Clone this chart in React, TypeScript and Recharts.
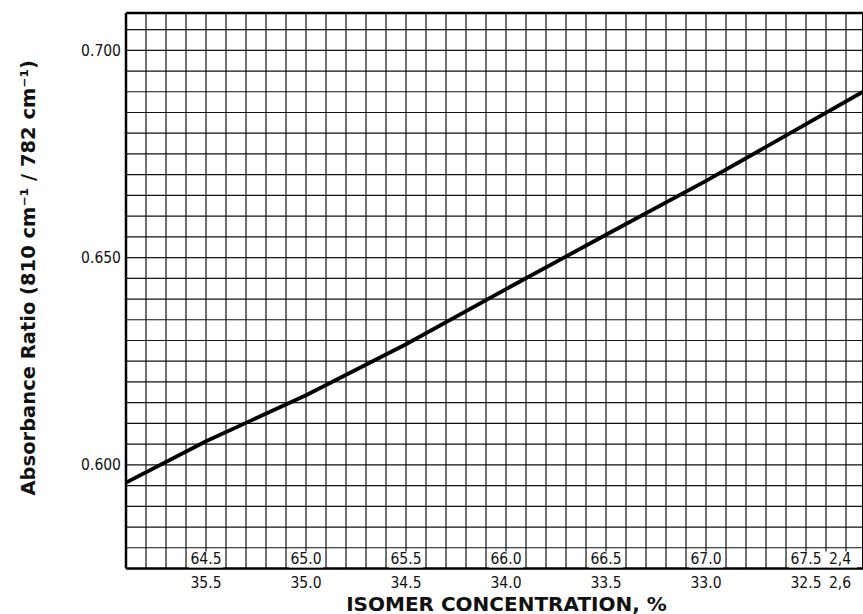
import { LineChart, Line, XAxis, YAxis, CartesianGrid, ReferenceLine, Label } from "recharts";

const font = "'DejaVu Sans Condensed', 'DejaVu Sans', sans-serif";
const boldFont = "'DejaVu Sans', Verdana, sans-serif";

// line: isomer % (reversed axis) vs absorbance ratio
const isomerPct = [35.9, 35.5, 35.0, 34.5, 34.0, 33.5, 33.0, 32.5, 32.215];
const absRatio = [0.5957, 0.6057, 0.6168, 0.6291, 0.6424, 0.6555, 0.6685, 0.6822, 0.69];

const xDomain = [32.215, 35.9];
const yDomain = [0.575, 0.709];

const xGridTicks = [
  35.8, 35.7, 35.6, 35.5, 35.4, 35.3, 35.2, 35.1, 35.0, 34.9, 34.8, 34.7, 34.6, 34.5,
  34.4, 34.3, 34.2, 34.1, 34.0, 33.9, 33.8, 33.7, 33.6, 33.5, 33.4, 33.3, 33.2, 33.1,
  33.0, 32.9, 32.8, 32.7, 32.6, 32.5, 32.4, 32.3,
];
const yGridTicks = [
  0.575, 0.58, 0.585, 0.59, 0.595, 0.6, 0.605, 0.61, 0.615, 0.62, 0.625, 0.63, 0.635,
  0.64, 0.645, 0.65, 0.655, 0.66, 0.665, 0.67, 0.675, 0.68, 0.685, 0.69, 0.695, 0.7, 0.705,
];
const yLabelValues = [0.6, 0.65, 0.7];

const xLabelTicks = [35.5, 35.0, 34.5, 34.0, 33.5, 33.0, 32.5, 32.33];
const outerLabels = ["35.5", "35.0", "34.5", "34.0", "33.5", "33.0", "32.5", "2,6"];
const innerLabels = ["64.5", "65.0", "65.5", "66.0", "66.5", "67.0", "67.5", "2,4"];

const data = isomerPct.map((pct, i) => ({ pct, ratio: absRatio[i] }));

function YTick({ x, y, payload }: any) {
  if (!yLabelValues.includes(payload.value)) return <g />;
  return (
    <text x={x} y={y} dy="0.36em" textAnchor="end" fontFamily={font} fontSize={15.5} fill="#111">
      {payload.value.toFixed(3)}
    </text>
  );
}

function XLabelTick({ x, y, index }: any) {
  return (
    <g>
      <rect x={x - 17} y={y - 18} width={34} height={16} fill="#fff" />
      <text x={x} y={y - 6} textAnchor="middle" fontFamily={font} fontSize={15.5} fill="#111">
        {innerLabels[index]}
      </text>
      <text x={x} y={y + 18} textAnchor="middle" fontFamily={font} fontSize={15.5} fill="#111">
        {outerLabels[index]}
      </text>
    </g>
  );
}

const EmptyTick = () => <g />;

export default function App() {
  return (
    <div style={{ position: "absolute", left: 0, top: 0, width: 863, height: 614, overflow: "hidden", background: "#fff" }}>
      <LineChart width={863} height={614} data={data} margin={{ top: 13, right: 0, bottom: 0, left: 0 }}>
        <CartesianGrid
          stroke="#111"
          strokeWidth={1.2}
          verticalCoordinatesGenerator={(props: any) => {
            const scale = props?.xAxis?.scale;
            if (typeof scale === "function") return xGridTicks.map((v) => scale(v));
            if (scale && typeof scale.map === "function") return xGridTicks.map((v) => scale.map(v));
            return undefined as any;
          }}
        />
        <XAxis
          dataKey="pct"
          type="number"
          domain={xDomain}
          reversed
          allowDataOverflow
          ticks={xGridTicks}
          interval={0}
          tick={<EmptyTick />}
          tickLine={false}
          tickSize={0}
          height={1}
          axisLine={{ stroke: "#000", strokeWidth: 2.5 }}
        />
        <XAxis
          xAxisId="lab"
          dataKey="pct"
          type="number"
          domain={xDomain}
          reversed
          allowDataOverflow
          ticks={xLabelTicks}
          interval={0}
          tick={<XLabelTick />}
          tickLine={false}
          tickSize={0}
          tickMargin={0}
          axisLine={false}
          height={44.5}
        >
          <Label
            content={({ viewBox }: any) => (
              <text
                x={viewBox.x + viewBox.width / 2 + 12}
                y={viewBox.y + viewBox.height - 3.5}
                textAnchor="middle"
                fontFamily={boldFont}
                fontWeight="bold"
                fontSize={20}
                fill="#111"
              >
                ISOMER CONCENTRATION, %
              </text>
            )}
          />
        </XAxis>
        <YAxis
          type="number"
          domain={yDomain}
          allowDataOverflow
          ticks={yGridTicks}
          interval={0}
          width={126}
          tick={<YTick />}
          tickLine={false}
          tickSize={0}
          tickMargin={5}
          axisLine={{ stroke: "#000", strokeWidth: 2.5 }}
        >
          <Label
            content={({ viewBox }: any) => {
              const cx = viewBox.x + 28;
              const cy = viewBox.y + viewBox.height / 2 - 13;
              return (
                <text
                  x={cx}
                  y={cy}
                  transform={`rotate(-90 ${cx} ${cy})`}
                  textAnchor="middle"
                  dominantBaseline="central"
                  fontFamily={boldFont}
                  fontWeight="bold"
                  fontSize={19.5}
                  fill="#111"
                >
                  Absorbance Ratio (810 cm⁻¹ / 782 cm⁻¹)
                </text>
              );
            }}
          />
        </YAxis>
        <ReferenceLine y={yDomain[1]} stroke="#000" strokeWidth={2.5} ifOverflow="visible" />
        <ReferenceLine x={xDomain[0]} stroke="#000" strokeWidth={2} ifOverflow="visible" />
        <Line
          dataKey="ratio"
          type="linear"
          stroke="#000"
          strokeWidth={3.8}
          dot={false}
          activeDot={false}
          isAnimationActive={false}
        />
      </LineChart>
    </div>
  );
}
